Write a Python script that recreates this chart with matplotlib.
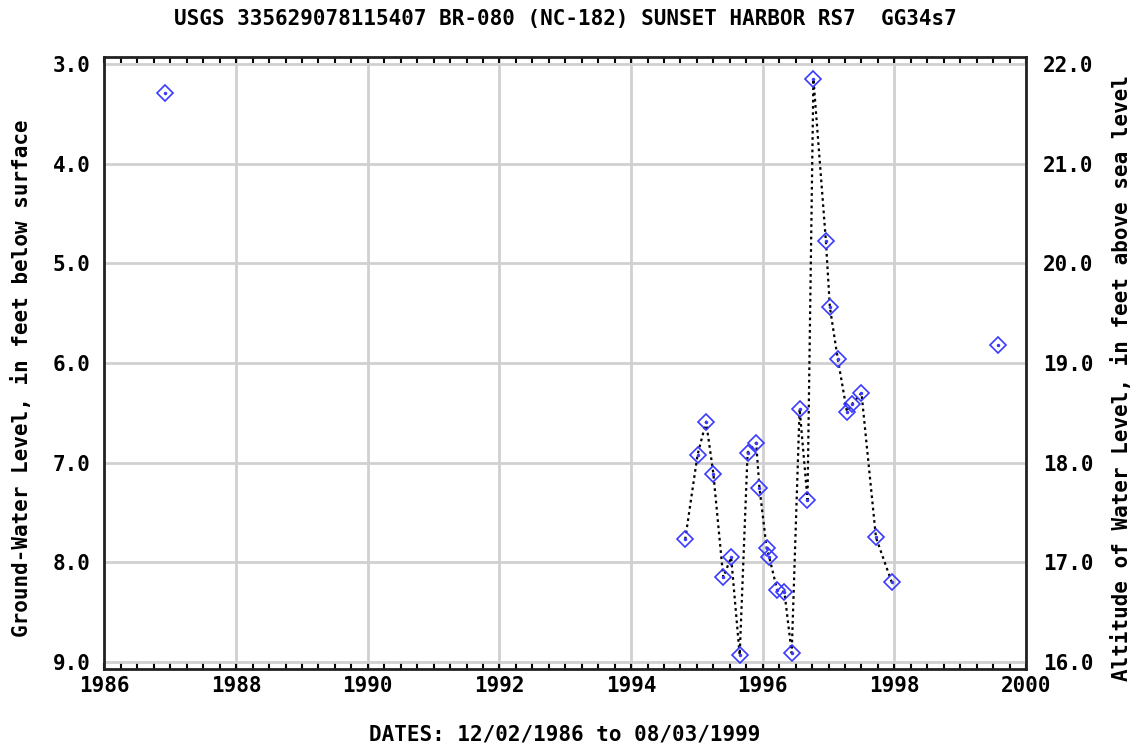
import matplotlib
matplotlib.use("Agg")
import matplotlib.pyplot as plt
from matplotlib.ticker import MultipleLocator

# Data (decimal year, depth to water in feet below surface)
years = [1986.919, 1994.822, 1995.01, 1995.14, 1995.25, 1995.40, 1995.52, 1995.65,
         1995.77, 1995.90, 1995.95, 1996.06, 1996.10, 1996.22, 1996.33, 1996.44,
         1996.56, 1996.68, 1996.77, 1996.96, 1997.02, 1997.14, 1997.28, 1997.36,
         1997.50, 1997.72, 1997.96, 1999.58]
depths = [3.29, 7.77, 6.92, 6.59, 7.11, 8.15, 7.95, 8.93,
          6.90, 6.80, 7.25, 7.86, 7.95, 8.28, 8.30, 8.91,
          6.46, 7.37, 3.15, 4.78, 5.44, 5.96, 6.49, 6.41,
          6.30, 7.75, 8.20, 5.82]
# indices (inclusive) of the continuous, connected record segment
seg_start, seg_end = 1, 26
land_surface = 25.0

title = "USGS 335629078115407 BR-080 (NC-182) SUNSET HARBOR RS7  GG34s7"
xlabel = "DATES: 12/02/1986 to 08/03/1999"
ylabel_left = "Ground-Water Level, in feet below surface"
ylabel_right = "Altitude of Water Level, in feet above sea level"
x_ticks = [1986, 1988, 1990, 1992, 1994, 1996, 1998, 2000]
y_ticks = [3.0, 4.0, 5.0, 6.0, 7.0, 8.0, 9.0]

font = dict(family="DejaVu Sans Mono", weight="bold")
fs = 15

fig = plt.figure(figsize=(11.37, 7.51), dpi=100)
ax = fig.add_axes([0.0919, 0.1092, 0.8105, 0.8149])

ax.set_xlim(1986, 2000)
ax.set_ylim(9.07, 2.93)

ax.set_xticks(x_ticks)
ax.xaxis.set_minor_locator(MultipleLocator(0.25))
ax.set_yticks(y_ticks)
ax.set_xticklabels([str(t) for t in x_ticks], fontsize=fs, **font)
ax.set_yticklabels([f"{t:.1f}" for t in y_ticks], fontsize=fs, **font)
ax.tick_params(axis="x", which="both", direction="in", top=True, bottom=True,
               length=4, width=1.5, color="black", pad=5)
ax.tick_params(axis="y", which="both", length=0, pad=10)

ax.grid(True, which="major", color="#d0d0d0", linewidth=2)
ax.set_axisbelow(True)
for s in ax.spines.values():
    s.set_linewidth(2)
    s.set_color("#222222")

# connected segment line
ax.plot(years[seg_start:seg_end + 1], depths[seg_start:seg_end + 1],
        linestyle=(0, (1.2, 1.6)), color="black", linewidth=1.6, zorder=2)
# markers
ax.plot(years, depths, linestyle="none", marker="D", markersize=8.5,
        markerfacecolor="none", markeredgecolor="#3a3aff", markeredgewidth=1.2, zorder=3)
ax.plot(years, depths, linestyle="none", marker="o", markersize=1.5,
        color="#3a3aff", zorder=3)

ax2 = ax.twinx()
lo, hi = ax.get_ylim()
ax2.set_ylim(land_surface - lo, land_surface - hi)
r_ticks = [land_surface - t for t in y_ticks]
ax2.set_yticks(r_ticks)
ax2.set_yticklabels([f"{t:.1f}" for t in r_ticks], fontsize=fs, **font)
ax2.tick_params(axis="y", length=0, pad=12)
for s in ax2.spines.values():
    s.set_visible(False)

fig.text(0.497, 0.975, title, ha="center", va="center", fontsize=fs, **font)
fig.text(0.497, 0.022, xlabel, ha="center", va="center", fontsize=fs, **font)
fig.text(0.019, 0.497, ylabel_left, ha="center", va="center", rotation=90, fontsize=fs, **font)
fig.text(0.986, 0.497, ylabel_right, ha="center", va="center", rotation=90, fontsize=fs, **font)

fig.savefig("out.png", dpi=100)
